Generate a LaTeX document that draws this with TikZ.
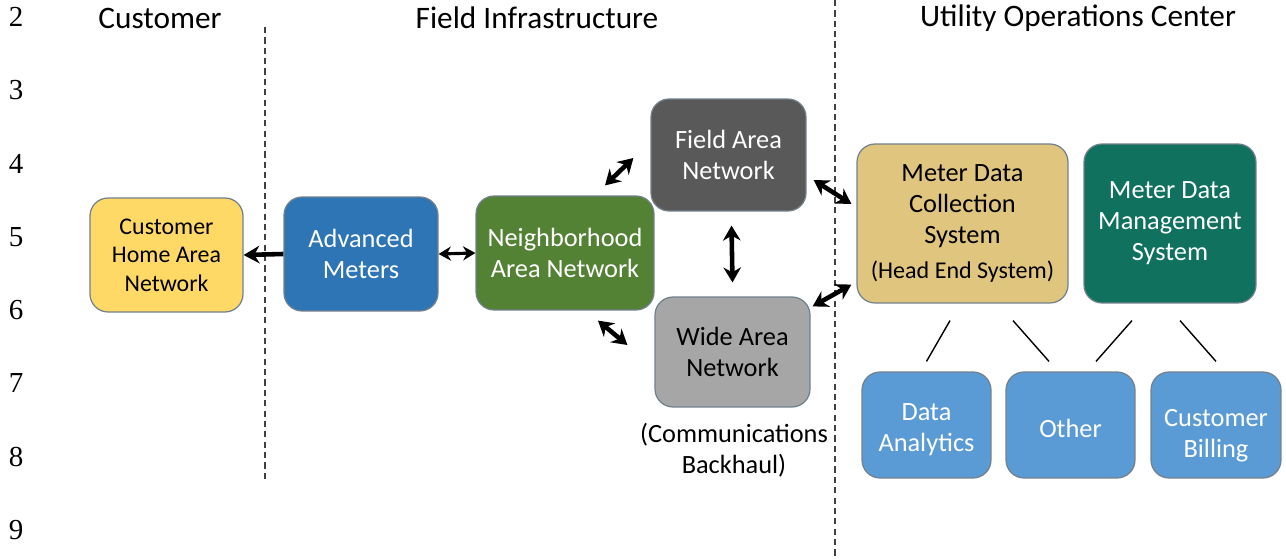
\documentclass[tikz,border=0pt]{standalone}
\usepackage{fontspec}
\setmainfont{Carlito}
\newfontfamily\numfont{Liberation Serif}
\usetikzlibrary{arrows.meta}

\definecolor{homeyellow}{HTML}{FFD966}
\definecolor{meterblue}{HTML}{2E75B6}
\definecolor{nangreen}{HTML}{548235}
\definecolor{fangray}{HTML}{595959}
\definecolor{wangray}{HTML}{A6A6A6}
\definecolor{headtan}{HTML}{E0C57E}
\definecolor{mdmteal}{HTML}{10715F}
\definecolor{appblue}{HTML}{5B9BD5}
\definecolor{edgegray}{HTML}{72808C}

\begin{document}
\begin{tikzpicture}[x=0.02cm,y=-0.02cm,
    box/.style={draw=edgegray, line width=0.7pt, rounded corners=0.36cm,
      inner sep=0pt, align=center, font=\fontsize{15}{17.6}\selectfont},
    appbox/.style={box, fill=appblue, minimum width=2.58cm, minimum height=2.12cm},
    apptext/.style={text=white, align=center, font=\fontsize{15}{17.6}\selectfont},
    heading/.style={font=\fontsize{17.8}{21}\selectfont},
    link/.style={line width=2.6pt, {Stealth[length=8.5pt,width=10pt]}-{Stealth[length=8.5pt,width=10pt]}},
    thinlink/.style={line width=1.8pt, {Stealth[length=7pt,width=8pt]}-{Stealth[length=7pt,width=8pt]}},
    tie/.style={line width=0.8pt},
    border/.style={draw=black!75, line width=0.9pt, dash pattern=on 3.5pt off 2.4pt}]
  \useasboundingbox (0,0) rectangle (1286,560);

  % line numbers of the page
  \foreach \n [count=\i from 0] in {2,...,9}
    \node[font=\numfont\fontsize{16.5}{19}\selectfont] (ln\n) at (16,17+73.3*\i) {\n};

  % zones
  \node[heading] (customer) at (160,18) {Customer};
  \node[heading] (field) at (537,18) {Field Infrastructure};
  \node[heading] (utility) at (1078,18) {Utility Operations Center};
  \draw[border] (265,27) -- (265,482);
  \draw[border] (835,0) -- (835,560);

  % boxes
  \node[box, fill=homeyellow, minimum width=3.06cm, minimum height=2.28cm,
    font=\fontsize{13.6}{16.2}\selectfont] (chan) at (166.5,255) {Customer\\Home Area\\Network};
  \node[box, fill=meterblue, text=white, minimum width=3.08cm, minimum height=2.28cm] (am) at (361,254) {Advanced\\Meters};
  \node[box, fill=nangreen, text=white, minimum width=3.56cm, minimum height=2.28cm] (nan) at (565,253) {Neighborhood\\Area Network};
  \node[box, fill=fangray, text=white, minimum width=3.10cm, minimum height=2.24cm] (fan) at (728.5,155) {Field Area\\Network};
  \node[box, fill=wangray, minimum width=3.10cm, minimum height=2.20cm] (wan) at (732.5,352) {Wide Area\\Network};
  \node[align=center, font=\fontsize{15}{17.6}\selectfont, anchor=north] (backhaul) at (734,417) {(Communications\\Backhaul)};
  \node[box, fill=headtan, minimum width=4.22cm, minimum height=3.18cm] (mdcs) at (962.5,223.5)
    {Meter Data\\Collection\\System\\[2pt]{\fontsize{13.7}{16}\selectfont(Head End System)}};
  \node[box, fill=mdmteal, text=white, minimum width=3.44cm, minimum height=3.18cm] (mdms) at (1170,223.5) {Meter Data\\Management\\System};
  \node[appbox, label={[apptext, yshift=-2.8pt]center:{Data\\Analytics}}] (da) at (926.5,425) {};
  \node[appbox, label={[apptext, yshift=-1.7pt]center:Other}] (other) at (1070.5,425) {};
  \node[appbox, minimum width=2.60cm, label={[apptext, yshift=-6.3pt]center:{Customer\\Billing}}] (billing) at (1216,425) {};

  % connectors
  \draw[line width=2.6pt, -{Stealth[length=9pt,width=10pt]}] (am.west) -- (chan.east);
  \draw[thinlink] (am.east) -- (nan.west);
  \draw[link] ([shift={(40,-10)}]nan.north) -- ([shift={(-17,3)}]fan.west);
  \draw[link] ([shift={(3,14)}]fan.south) -- ([shift={(0,-14)}]wan.north);
  \draw[link] ([shift={(33,10)}]nan.south) -- ([shift={(-27,-7)}]wan.west);
  \draw[link] ([shift={(7,25)}]fan.east) -- ([shift={(-5,-19.5)}]mdcs.west);
  \draw[link] ([shift={(2,10)}]wan.north east) -- ([shift={(-5,-19)}]mdcs.south west);
  \draw[tie] ([shift={(-12.5,17)}]mdcs.south) -- ([shift={(0,-10)}]da.north);
  \draw[tie] ([shift={(50.5,17)}]mdcs.south) -- ([shift={(-21.5,-10)}]other.north);
  \draw[tie] ([shift={(-38,17)}]mdms.south) -- ([shift={(25.5,-10)}]other.north);
  \draw[tie] ([shift={(10,17)}]mdms.south) -- ([shift={(0,-10)}]billing.north);
\end{tikzpicture}
\end{document}
